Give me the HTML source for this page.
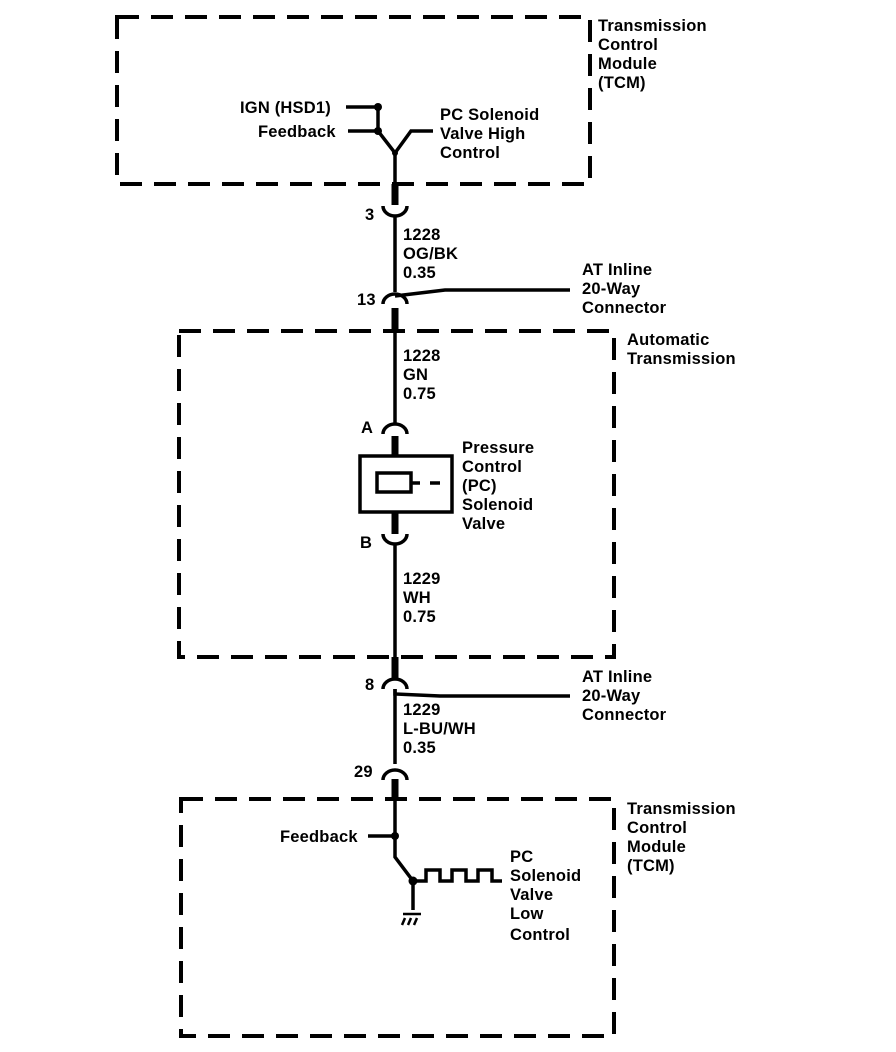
<!DOCTYPE html>
<html><head><style>
html,body{margin:0;padding:0;background:#fff;}
svg{display:block}
text{font-family:"Liberation Sans",Arial,sans-serif;font-size:16.5px;font-weight:bold;letter-spacing:0.2px;fill:#000;}
</style></head><body>
<svg width="896" height="1052" viewBox="0 0 896 1052" xmlns="http://www.w3.org/2000/svg">
<g fill="none" stroke="#000" stroke-width="4" stroke-dasharray="22,12">
<rect x="117" y="17" width="473" height="167"/>
<rect x="179" y="331" width="435" height="326"/>
<rect x="181" y="799" width="433" height="237"/>
</g>
<g stroke="#000" stroke-width="3.5" fill="none">
<path d="M346 107H378V131M348 131H378L395 153L411 131H433"/>
<path d="M395 153V184"/>
<path d="M395 216V292"/>
<path d="M395 296L445 290H570"/>
<path d="M395 332V425"/>
<path d="M395 545V657"/>
<path d="M395 689V694L440 696H570"/>
<path d="M395 689V764"/>
<path d="M395 798V857L413 881V910"/>
<path d="M413 881H426V870H440V881H452V870H466V881H478V870H492V881H502"/>
<path d="M368 836H395"/>
<path d="M383 206A12 10 0 0 0 407 206"/>
<path d="M383 304A12 10 0 0 1 407 304"/>
<path d="M383 434A12 10 0 0 1 407 434"/>
<path d="M383 534A12 10 0 0 0 407 534"/>
<path d="M383 689A12 10 0 0 1 407 689"/>
<path d="M383 780A12 10 0 0 1 407 780"/>
<rect x="360" y="456" width="92" height="56"/>
<rect x="377" y="473" width="34" height="19"/>
<path d="M411 483H420M430 483H440"/>
<path d="M405 918L402 925M411 918L408 925M417 918L414 925" stroke-width="2.5"/>
<path d="M403 914H421" stroke-width="2.5"/>
</g>
<g stroke="#000" stroke-width="7">
<path d="M395 184V205M395 308V331M395 436V456M395 512V534M395 657V680M395 779V799"/>
</g>
<g fill="#000">
<circle cx="378" cy="107" r="4"/><circle cx="378" cy="131" r="4"/>
<circle cx="395" cy="153" r="3"/>
<circle cx="395" cy="836" r="4"/><circle cx="413" cy="881" r="4.5"/>
</g>
<text x="598" y="31">Transmission</text>
<text x="598" y="50">Control</text>
<text x="598" y="69">Module</text>
<text x="598" y="88">(TCM)</text>
<text x="240" y="113">IGN (HSD1)</text>
<text x="258" y="137">Feedback</text>
<text x="440" y="120">PC Solenoid</text>
<text x="440" y="139">Valve High</text>
<text x="440" y="158">Control</text>
<text x="365" y="220">3</text>
<text x="403" y="240">1228</text>
<text x="403" y="259">OG/BK</text>
<text x="403" y="278">0.35</text>
<text x="357" y="305">13</text>
<text x="582" y="275">AT Inline</text>
<text x="582" y="294">20-Way</text>
<text x="582" y="313">Connector</text>
<text x="627" y="345">Automatic</text>
<text x="627" y="364">Transmission</text>
<text x="403" y="361">1228</text>
<text x="403" y="380">GN</text>
<text x="403" y="399">0.75</text>
<text x="361" y="433">A</text>
<text x="462" y="453">Pressure</text>
<text x="462" y="472">Control</text>
<text x="462" y="491">(PC)</text>
<text x="462" y="510">Solenoid</text>
<text x="462" y="529">Valve</text>
<text x="360" y="548">B</text>
<text x="403" y="584">1229</text>
<text x="403" y="603">WH</text>
<text x="403" y="622">0.75</text>
<text x="365" y="690">8</text>
<text x="582" y="682">AT Inline</text>
<text x="582" y="701">20-Way</text>
<text x="582" y="720">Connector</text>
<text x="403" y="715">1229</text>
<text x="403" y="734">L-BU/WH</text>
<text x="403" y="753">0.35</text>
<text x="354" y="777">29</text>
<text x="627" y="814">Transmission</text>
<text x="627" y="833">Control</text>
<text x="627" y="852">Module</text>
<text x="627" y="871">(TCM)</text>
<text x="280" y="842">Feedback</text>
<text x="510" y="862">PC</text>
<text x="510" y="881">Solenoid</text>
<text x="510" y="900">Valve</text>
<text x="510" y="919">Low</text>
<text x="510" y="940">Control</text>
</svg>
</body></html>
